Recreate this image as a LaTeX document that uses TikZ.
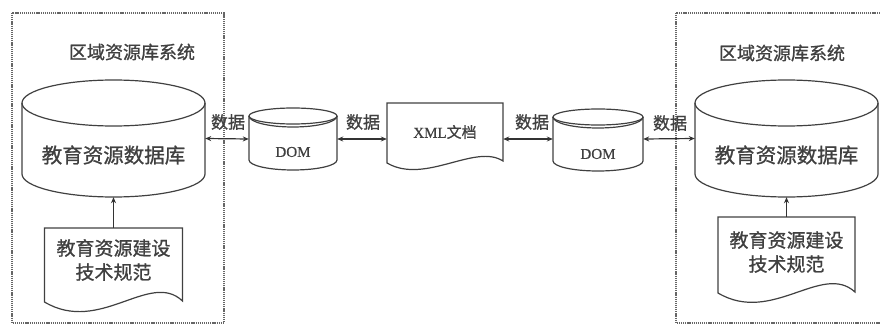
\documentclass[tikz,border=0pt]{standalone}
\usepackage{fontspec}
\setmainfont{Liberation Serif}
\newfontfamily\cjk[FakeBold=1]{Noto Sans CJK SC}
\newfontfamily\latf[FakeBold=0.6]{Liberation Serif}
\usetikzlibrary{arrows.meta}
\begin{document}
\begin{tikzpicture}[x=1pt,y=-1pt,
  outl/.style={draw=black!75, line width=1.2pt},
  zone/.style={draw=black!60, line width=1.1pt, dash pattern=on 1.2pt off 0.9pt},
  link/.style={draw=black!80, line width=1.2pt, {Stealth[length=6pt,width=5pt]}-{Stealth[length=6pt,width=5pt]}},
  feed/.style={draw=black!80, line width=1.2pt, -{Stealth[length=6pt,width=5pt]}},
  box/.style={inner sep=0pt, draw=none},
  lbl/.style={inner sep=0pt, font=\cjk\fontsize{17}{17}\selectfont, text=black!75},
  ttl/.style={inner sep=0pt, font=\cjk\fontsize{18}{18}\selectfont, text=black!75},
  big/.style={inner sep=0pt, font=\cjk\fontsize{20.5}{20.5}\selectfont, text=black!75},
  doct/.style={inner sep=0pt, align=center, font=\cjk\fontsize{19}{24}\selectfont, text=black!75},
  lat/.style={inner sep=0pt, font=\latf\fontsize{15}{15}\selectfont, text=black!75}
]
\useasboundingbox (0,0) rectangle (880,329);

% zones
\draw[zone] (12,13) rectangle (224,323);
\draw[zone] (676,13) rectangle (890,323);
\node[ttl] (t1) at (132,52) {区域资源库系统};
\node[ttl] (t2) at (782,53) {区域资源库系统};

% invisible name boxes
\node[box, minimum width=183pt, minimum height=117pt] (db1) at (113.5,138.5) {};
\node[box, minimum width=88pt, minimum height=62pt] (dom1) at (293,139) {};
\node[box, minimum width=116pt, minimum height=72pt] (xml) at (445,139) {};
\node[box, minimum width=90pt, minimum height=62pt] (dom2) at (598,139) {};
\node[box, minimum width=183pt, minimum height=117pt] (db2) at (786.5,138.5) {};
\node[box, minimum width=138pt, minimum height=74pt] (doc1) at (113.5,265) {};
\node[box, minimum width=137pt, minimum height=76pt] (doc2) at (786.5,255) {};

% big cylinder left
\draw[outl] (113.5,103) ellipse [x radius=91.5pt, y radius=23pt];
\draw[outl] (22,103) -- (22,174) arc[start angle=180,end angle=360,x radius=91.5pt,y radius=23pt] -- (205,103);
% big cylinder right
\draw[outl] (786.5,103) ellipse [x radius=91.5pt, y radius=23pt];
\draw[outl] (695,103) -- (695,174) arc[start angle=180,end angle=360,x radius=91.5pt,y radius=23pt] -- (878,103);

% DOM cylinders
\draw[outl] (293,116) ellipse [x radius=44pt, y radius=8pt];
\draw[outl] (249,116) arc[start angle=180,end angle=360,x radius=44pt,y radius=11pt];
\draw[outl] (249,116) -- (249,160) arc[start angle=180,end angle=360,x radius=44pt,y radius=10pt] -- (337,116);
\draw[outl] (598,117) ellipse [x radius=45pt, y radius=8pt];
\draw[outl] (553,117) arc[start angle=180,end angle=360,x radius=45pt,y radius=11pt];
\draw[outl] (553,117) -- (553,161) arc[start angle=180,end angle=360,x radius=45pt,y radius=10pt] -- (643,117);

% documents
\draw[outl] (387,103) -- (503,103) -- (503,161) .. controls (475,143) and (425,185) .. (387,163) -- cycle;
\draw[outl] (44.5,228) -- (182.5,228) -- (182.5,301) .. controls (150,270) and (100,335) .. (44.5,302) -- cycle;
\draw[outl] (718,217) -- (855,217) -- (855,292) .. controls (822,262) and (772,325) .. (718,293) -- cycle;

% texts
\node[big] (db1t) at (113.5,155) {教育资源数据库};
\node[big] (db2t) at (786.5,155) {教育资源数据库};
\node[lat] (dom1t) at (293,152) {DOM};
\node[lat] (dom2t) at (598,154) {DOM};
\node[lat] (xmlt) at (445,132) {XML{\cjk 文档}};
\node[doct] (doc1t) at (113.5,260) {教育资源建设\\技术规范};
\node[doct] (doc2t) at (786.5,252) {教育资源建设\\技术规范};

% connectors
\draw[link] (db1.east) -- (dom1.west);
\draw[link] (dom1.east) -- (xml.west);
\draw[link] (xml.east) -- (dom2.west);
\draw[link] (dom2.east) -- (db2.west);
\draw[feed] (doc1.north) -- (db1.south);
\draw[feed] (doc2.north) -- (db2.south);

% labels
\node[lbl] (l1) at (228,122) {数据};
\node[lbl] (l2) at (363,122) {数据};
\node[lbl] (l3) at (532,122) {数据};
\node[lbl] (l4) at (670,123) {数据};
\end{tikzpicture}
\end{document}
